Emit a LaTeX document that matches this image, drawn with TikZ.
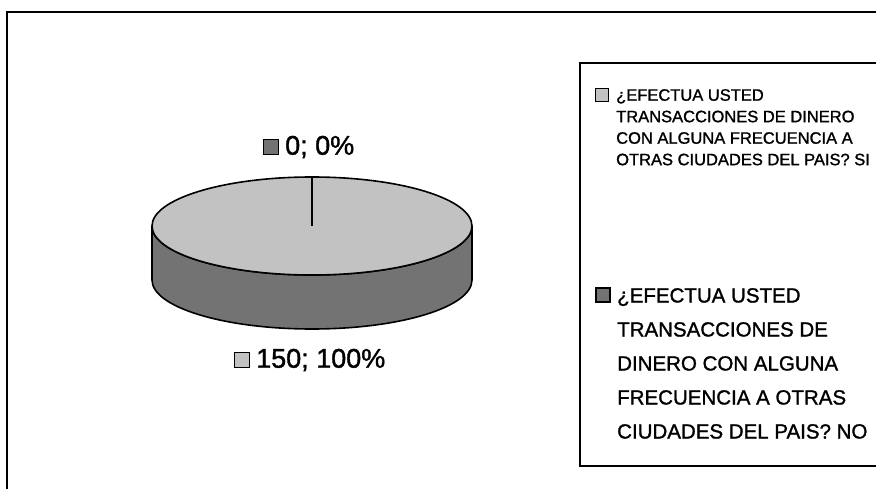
\documentclass[tikz,border=0pt]{standalone}
\usepackage{fontspec}
\setmainfont{Liberation Sans}
\newfontfamily\heavyfont{Liberation Sans}[FakeBold=1.3]
\usepackage{xcolor}
\definecolor{pietop}{gray}{0.76}
\definecolor{pieside}{gray}{0.45}
\newcommand\piefont{\heavyfont\fontsize{27}{30}\selectfont}
\newcommand\legfontA{\heavyfont\fontsize{16.5}{21.5}\selectfont}
\newcommand\legfontB{\heavyfont\fontsize{20.5}{34}\selectfont}
\tikzset{
  keybox/.style={draw=black, line width=1.6pt, minimum size=#1, inner sep=0pt},
  txt/.style={inner sep=0pt, align=left}
}

\begin{document}
\begin{tikzpicture}[x=1pt,y=1pt]
        \useasboundingbox (0,0) rectangle (876,488);
        \clip (0,0) rectangle (876,488);

        \coordinate (FrameB) at (7,-5);
        \coordinate (FrameTL) at (7,476);
        \coordinate (FrameTR) at (890,476);

        \coordinate (LegTL) at (580,425);
        \coordinate (LegTR) at (890,425);
        \coordinate (LegBL) at (580,22);
        \coordinate (LegBR) at (890,22);

        \coordinate (PieC) at (312,262);
        \coordinate (PieL) at (152,262);
        \coordinate (PieLb) at (152,208);
        \coordinate (PieR) at (472,262);
        \coordinate (PieTop) at (312,311);

        \coordinate (ZeroK) at (271,341);
        \coordinate (ZeroT) at (285,341);
        \coordinate (FullK) at (242,128);
        \coordinate (FullT) at (256,128);

        \coordinate (SiK) at (602,393);
        \coordinate (SiT) at (616,399);
        \coordinate (NoK) at (603,193);
        \coordinate (NoT) at (617,200);

        % outer frame and legend frame
        \draw[line width=1.5pt] (FrameB) -- (FrameTL) -- (FrameTR);
        \draw[line width=1.5pt] (LegTR) -- (LegTL) -- (LegBL) -- (LegBR);

        % pie side
        \draw[line width=1.6pt, fill=pieside] (PieL) -- (PieLb)
          arc[start angle=180, end angle=360, x radius=160, y radius=49]
          -- (PieR)
          arc[start angle=0, end angle=-180, x radius=160, y radius=49] -- cycle;
        % pie top
        \draw[line width=1.6pt, fill=pietop] (PieC) ellipse[x radius=160, y radius=49];
        \draw[line width=1.2pt] (PieTop) -- (PieC);

        % slice labels
        \node[keybox=15pt, fill=pieside] (ZeroKey) at (ZeroK) {};
        \node[txt, anchor=west, font=\piefont] (ZeroLbl) at (ZeroT) {0; 0\%};
        \node[keybox=15pt, fill=pietop] (FullKey) at (FullK) {};
        \node[txt, anchor=west, font=\piefont] (FullLbl) at (FullT) {150; 100\%};

        % legend
        \node[keybox=13pt, fill=pietop] (SiKey) at (SiK) {};
        \node[txt, anchor=north west, font=\legfontA] (SiLbl) at (SiT)
          {¿EFECTUA USTED\\TRANSACCIONES DE DINERO\\CON ALGUNA FRECUENCIA A\\OTRAS CIUDADES DEL PAIS? SI};
        \node[keybox=14pt, fill=pieside] (NoKey) at (NoK) {};
        \node[txt, anchor=north west, font=\legfontB] (NoLbl) at (NoT)
          {¿EFECTUA USTED\\TRANSACCIONES DE\\DINERO CON ALGUNA\\FRECUENCIA A OTRAS\\CIUDADES DEL PAIS? NO};
      \end{tikzpicture}
\end{document}
